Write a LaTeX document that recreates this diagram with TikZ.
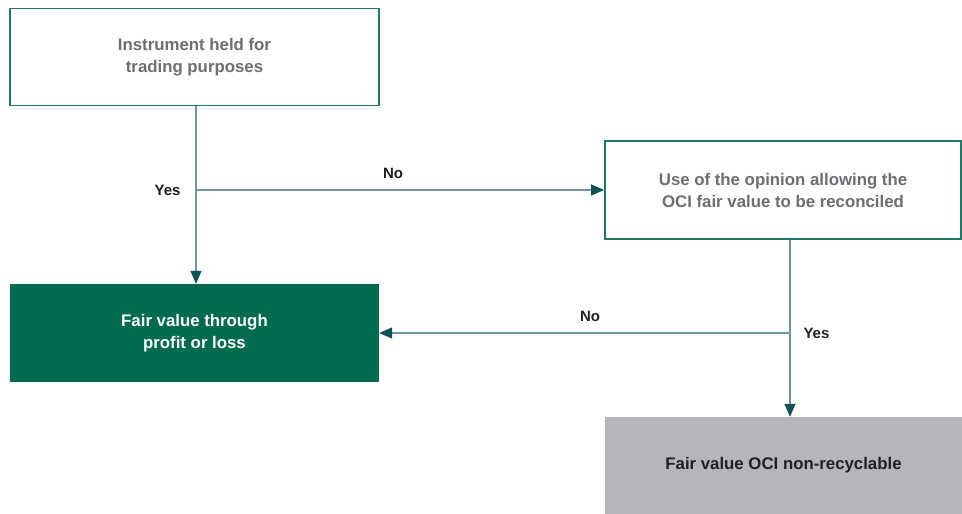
\documentclass[tikz,border=0pt]{standalone}
\usepackage{fontspec}
\setmainfont{Liberation Sans}
\usetikzlibrary{arrows.meta, calc, positioning}
\definecolor{tealline}{HTML}{6F979B}
\definecolor{tealtip}{HTML}{0E5158}
\definecolor{boxedge}{HTML}{1E7A66}
\definecolor{dkgreen}{HTML}{006B4F}
\definecolor{ltgray}{HTML}{B5B6B9}
\definecolor{txgray}{HTML}{6D6E71}
\definecolor{txdark}{HTML}{231F20}

\begin{document}
\begin{tikzpicture}[
    x=1pt, y=-1pt,
    every node/.style={font=\fontsize{16.8pt}{22pt}\selectfont\bfseries},
  ]

  % Background
  \useasboundingbox (0,0) rectangle (962,514);

  % Box styles
  \tikzset{
    askbox/.style={draw=boxedge, line width=1.8pt, fill=white, text=txgray,
      align=center, minimum width=369pt, minimum height=97pt, inner sep=0pt},
    flowedge/.style={line width=1.4pt, tealline,
      arrows={-Triangle[length=13pt, width=11pt, tealtip]}},
    answer/.style={font=\fontsize{15pt}{16pt}\selectfont\bfseries, text=txdark},
  }

  % Nodes
  \node[askbox] (trading) at (194.5,57)
    {Instrument held for\\trading purposes};
  \node[askbox, minimum width=356pt, minimum height=98pt] (option) at (783,190)
    {Use of the opinion allowing the\\OCI fair value to be reconciled};
  \node[fill=dkgreen, text=white, align=center, minimum width=369pt,
        minimum height=98pt, inner sep=0pt] (fvpl) at (194.5,333)
    {Fair value through\\profit or loss};
  \node[fill=ltgray, text=txdark, align=center, minimum width=357pt,
        minimum height=97pt, inner sep=0pt] (fvoci) at (783.5,465.5)
    {Fair value OCI non-recyclable};

  % Junctions
  \coordinate (split1) at (196,190);
  \coordinate (split2) at (790,333);

  % Trading? -> Yes down, No across
  \draw[flowedge] (trading.south -| split1) -- (fvpl.north -| split1);
  \draw[flowedge] (split1) -- (option.west);
  \node[answer, anchor=east] (yes1) at (184,190) {Yes};
  \node[answer] (no1) at (393,173) {No};

  % Option? -> Yes down, No back
  \draw[flowedge] (option.south -| split2) -- (fvoci.north -| split2);
  \draw[flowedge] (split2) -- (fvpl.east);
  \node[answer] (no2) at (590,316) {No};
  \node[answer, anchor=west] (yes2) at (800,333) {Yes};

\end{tikzpicture}
\end{document}
